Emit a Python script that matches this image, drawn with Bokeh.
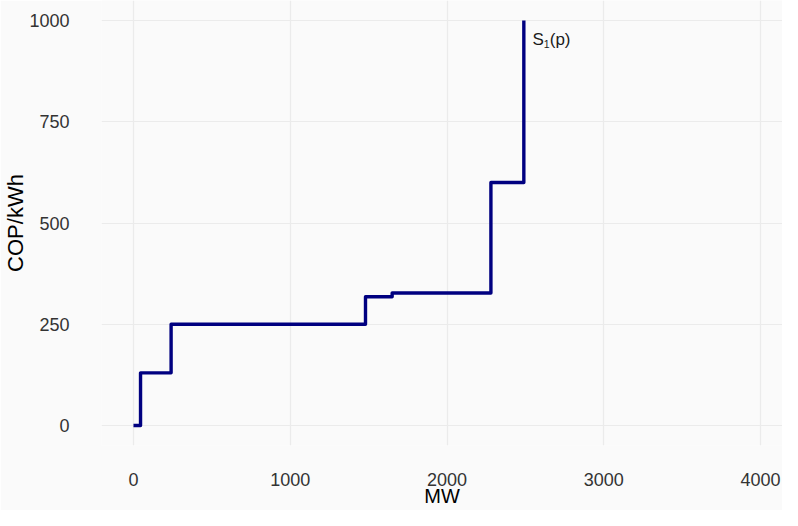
from bokeh.plotting import figure
from bokeh.models import FixedTicker, Range1d
from bokeh.embed import file_html
from bokeh.resources import INLINE
from bokeh.core.properties import value

# Supply curve S1(p): step breakpoints (MW) and price levels (COP/kWh)
mw = [0, 45, 240, 1480, 1650, 2280, 2490]
cop = [0, 130, 250, 318, 327, 600, 1000]

x_ticks = [0, 1000, 2000, 3000, 4000]
y_ticks = [0, 250, 500, 750, 1000]

x_title = "MW"
y_title = "COP/kWh"

label_main = "S"
label_sub = "1"
label_rest = "(p)"
label_x = [2545]
label_y = [952]

BG = "#fafafa"
GRID = "#ebebeb"
FONT = "Liberation Sans"

p = figure(width=782, height=510, output_backend="svg", toolbar_location=None,
           x_range=Range1d(-204, 4140), y_range=Range1d(-49.4, 1049.4),
           min_border_left=101, min_border_right=0, min_border_top=0,
           min_border_bottom=65)

p.background_fill_color = BG
p.border_fill_color = BG
p.outline_line_color = None

p.step(mw, cop, mode="after", line_color="#000080", line_width=3.4,
       line_join="round", line_cap="butt")

p.text(x=label_x, y=label_y, text=[label_main], text_font=value(FONT),
       text_font_size="17px", text_color="#1a1a1a", text_baseline="middle",
       text_align="left")
p.text(x=label_x, y=label_y, text=[label_sub], text_font=value(FONT),
       text_font_size="10.5px", text_color="#1a1a1a", text_baseline="middle",
       text_align="left", x_offset=11.4, y_offset=4)
p.text(x=label_x, y=label_y, text=[label_rest], text_font=value(FONT),
       text_font_size="17px", text_color="#1a1a1a", text_baseline="middle",
       text_align="left", x_offset=17.3)

p.xaxis.ticker = FixedTicker(ticks=x_ticks)
p.yaxis.ticker = FixedTicker(ticks=y_ticks)

for ax in (p.xaxis[0], p.yaxis[0]):
    ax.axis_line_color = None
    ax.major_tick_line_color = None
    ax.minor_tick_line_color = None
    ax.major_tick_out = 0
    ax.major_tick_in = 0
    ax.minor_tick_out = 0
    ax.minor_tick_in = 0
    ax.major_label_text_font = FONT
    ax.major_label_text_font_size = "18px"
    ax.major_label_text_color = "#333333"
    ax.axis_label_text_font = FONT
    ax.axis_label_text_font_style = "normal"
    ax.axis_label_text_color = "#000000"

p.xaxis.axis_label = x_title
p.yaxis.axis_label = y_title
p.xaxis.axis_label_text_font_size = "20px"
p.yaxis.axis_label_text_font_size = "22px"
p.xaxis.major_label_standoff = 27
p.yaxis.major_label_standoff = 32
p.xaxis.axis_label_standoff = -4
p.yaxis.axis_label_standoff = -2

p.xgrid.grid_line_color = GRID
p.ygrid.grid_line_color = GRID
p.xgrid.grid_line_width = 1.2
p.ygrid.grid_line_width = 1.2

open("out.html", "w").write(file_html(p, INLINE))
